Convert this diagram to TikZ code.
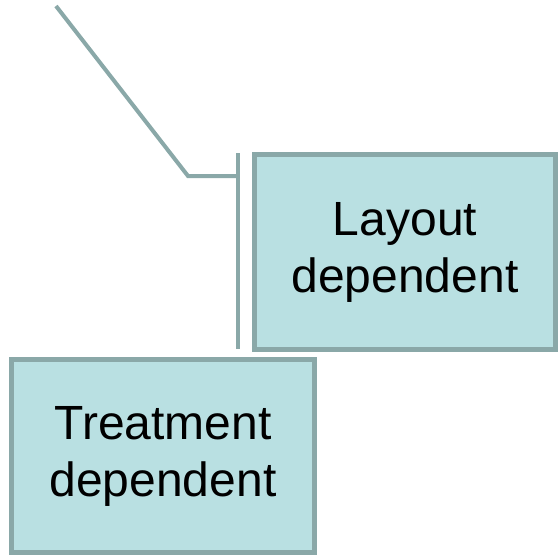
\documentclass[tikz,border=0pt]{standalone}
\usepackage{fontspec}
\setmainfont{Liberation Sans}
\definecolor{boxfill}{RGB}{185,224,226}
\definecolor{boxline}{RGB}{138,168,168}
\begin{document}
\begin{tikzpicture}[x=1pt,y=-1pt,
  box/.style={draw=boxline,fill=boxfill,line width=5pt,align=center,
    font=\fontsize{48}{57}\selectfont,inner sep=0pt},
  conn/.style={draw=boxline,line width=4pt}]
\useasboundingbox (0,0) rectangle (559,555);
\node[box,minimum width=301pt,minimum height=195pt] (layout) at (405,252) {Layout\\dependent};
\node[box,minimum width=303pt,minimum height=193pt] (treat) at (163,456) {Treatment\\dependent};
\coordinate (start) at (56,6);
\coordinate (elbow) at (188,176);
\coordinate (btop) at (237.5,153);
\coordinate (bbot) at (237.5,349);
\coordinate (bmid) at (237.5,176);
\draw[conn] (btop) -- (bbot);
\draw[conn] (start) -- (elbow) -- (bmid);
\end{tikzpicture}
\end{document}
